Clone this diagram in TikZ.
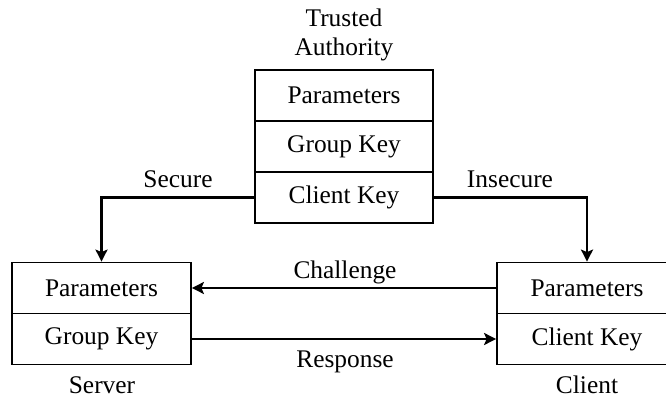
\documentclass[tikz,border=0pt]{standalone}
\usepackage{fontspec}
\setmainfont{Liberation Serif}
\usetikzlibrary{arrows.meta}
\begin{document}
\begin{tikzpicture}[x=1pt,y=-1pt,
  font=\fontsize{25.4}{30}\selectfont,
  cell/.style={draw,line width=1.8pt,minimum height=51pt,inner sep=0pt,anchor=center},
  tacell/.style={cell,minimum width=178pt},
  scell/.style={cell,minimum width=179pt},
  ccell/.style={cell,minimum width=180pt},
  conn/.style={line width=2.4pt,-{Stealth[length=12pt,width=12pt,inset=2.5pt]}},
  lbl/.style={inner sep=0pt,anchor=base}]
\useasboundingbox (0,0) rectangle (666,398);
\clip (0,0) rectangle (666,398);
\fill[white] (0,0) rectangle (666,398);
% Trusted Authority
\node[tacell] (ta1) at (344,95.5) {Parameters};
\node[tacell] (ta2) at (344,146.5) {Group Key};
\node[tacell] (ta3) at (344,197.5) {Client Key};
\node[lbl] (tat) at (344,27) {Trusted};
\node[lbl] (taa) at (344,56) {Authority};
% Server
\node[scell] (s1) at (101.5,288) {Parameters};
\node[scell] (s2) at (101.5,339) {Group Key};
\node[lbl] (sl) at (102,393) {Server};
% Client
\node[ccell] (c1) at (587,288) {Parameters};
\node[ccell] (c2) at (587,339) {Client Key};
\node[lbl] (cl) at (587,393) {Client};
% connectors
\draw[conn] (ta3.west) -| (s1.north);
\draw[conn] (ta3.east) -| (c1.north);
\draw[conn] (c1.west) -- (s1.east);
\draw[conn] (s2.east) -- (c2.west);
% labels
\node[lbl] (lsec) at (178,188) {Secure};
\node[lbl] (lins) at (510,188) {Insecure};
\node[lbl] (lch) at (345,278) {Challenge};
\node[lbl] (lre) at (345,367) {Response};
\end{tikzpicture}
\end{document}
